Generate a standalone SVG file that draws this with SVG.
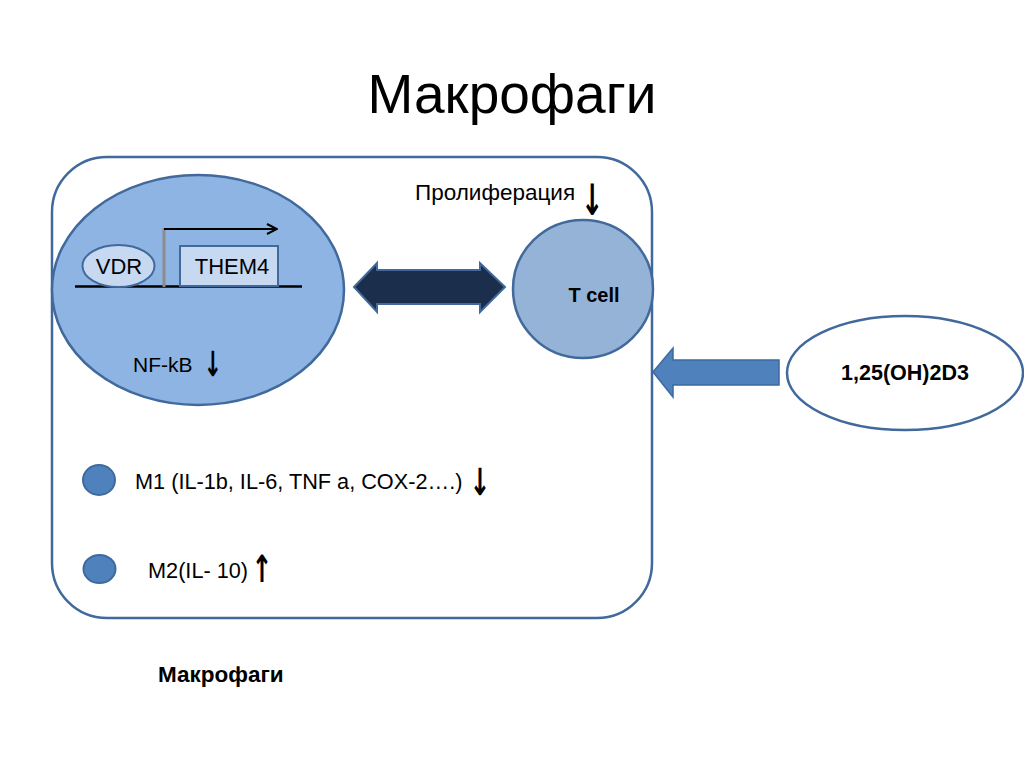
<svg xmlns="http://www.w3.org/2000/svg" width="1024" height="767" viewBox="0 0 1024 767">
<defs>
<style>
.t{font-family:"Liberation Sans",Arial,sans-serif;fill:#000}
.b{font-weight:bold}
.ar{font-family:"DejaVu Sans",sans-serif;font-weight:bold;fill:#000;text-anchor:middle}
.edge{stroke:#41699b;stroke-width:2.5}
.dot{fill:#4f81bd;stroke:#3d6a9f;stroke-width:2}
</style>
<marker id="open" viewBox="0 0 12 12" refX="11" refY="6" markerWidth="12" markerHeight="12" markerUnits="userSpaceOnUse" orient="auto">
<path d="M1,1 L11,6 L1,11" fill="none" stroke="#000" stroke-width="2"/>
</marker>
</defs>
<rect width="1024" height="767" fill="#fff"/>
<text class="t" x="512" y="113" font-size="55" text-anchor="middle">Макрофаги</text>

<g id="macrophage">
<rect x="52" y="157" width="600" height="461" rx="55" ry="55" fill="#fff" class="edge"/>
</g>

<g id="nucleus">
<ellipse cx="198" cy="290" rx="146" ry="115" fill="#8eb4e3" class="edge"/>
<line x1="75" y1="286.5" x2="302" y2="286.5" stroke="#000" stroke-width="2.5"/>
<line x1="164" y1="228" x2="164" y2="287" stroke="#8c8c8c" stroke-width="3"/>
<line x1="164" y1="229" x2="277" y2="229" stroke="#000" stroke-width="2" marker-end="url(#open)"/>
</g>
<g id="vdr">
<ellipse cx="118.5" cy="266" rx="36" ry="21" fill="#c6d9f1" stroke="#41699b" stroke-width="2"/>
<text class="t" x="119" y="274" font-size="22" text-anchor="middle">VDR</text>
</g>
<g id="them4">
<rect x="180" y="246" width="98" height="40" fill="#c6d9f1" stroke="#41699b" stroke-width="2"/>
<text class="t" x="232" y="274" font-size="22" text-anchor="middle">THEM4</text>
</g>
<g id="nfkb">
<text class="t" x="133" y="372" font-size="21">NF-kB</text>
<text class="ar" transform="translate(213,376) scale(1,1.57)" x="0" y="0" font-size="22">↓</text>
</g>

<g id="tcell">
<ellipse cx="583" cy="289" rx="70" ry="69" fill="#95b3d7" class="edge"/>
<text class="t b" x="594" y="302" font-size="20" text-anchor="middle">T cell</text>
</g>
<g id="prolif">
<text class="t" x="415" y="200" font-size="22.5">Пролиферация</text>
<text class="ar" transform="translate(592,215) scale(1,1.6)" x="0" y="0" font-size="27">↓</text>
</g>

<g id="vitd">
<ellipse cx="905" cy="373" rx="118" ry="57" fill="#fff" class="edge"/>
<text class="t b" x="905" y="380" font-size="21.5" text-anchor="middle">1,25(OH)2D3</text>
</g>

<g id="m1">
<ellipse cx="99" cy="480" rx="16" ry="15" class="dot"/>
<text class="t" x="135" y="489" font-size="21.7">M1 (IL-1b, IL-6, TNF a, COX-2….)</text>
<text class="ar" transform="translate(480,495) scale(1,1.5)" x="0" y="0" font-size="25">↓</text>
</g>
<g id="m2">
<ellipse cx="99.5" cy="569" rx="16" ry="14" class="dot"/>
<text class="t" x="148" y="578" font-size="21.7">M2(IL- 10)</text>
<text class="ar" transform="translate(262,582) scale(1,1.5)" x="0" y="0" font-size="25">↑</text>
</g>

<text class="t b" x="158" y="682" font-size="22.5">Макрофаги</text>

<g id="connectors">
<path d="M354,287 L377,263 L377,270 L480,270 L480,263 L505,287 L480,312 L480,304 L377,304 L377,312 Z" fill="#1b2f4d" stroke="#41699b" stroke-width="2"/>
<path d="M653,372 L673,348 L673,360 L779,360 L779,385 L673,385 L673,397 Z" fill="#4f81bd" stroke="#3d6a9f" stroke-width="1.5"/>
</g>
</svg>
